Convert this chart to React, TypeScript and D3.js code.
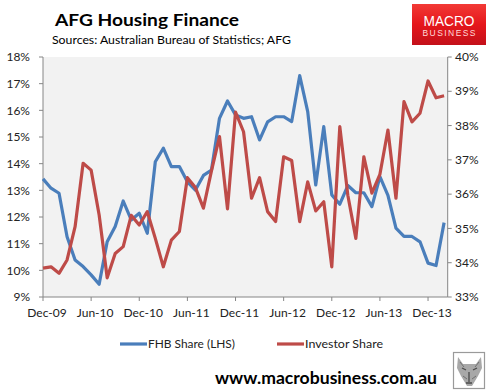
import React, { useEffect, useRef } from "react";
import * as d3 from "d3";

// monthly observations, Dec-09 .. Feb-14
const months = [
  "Dec-09", "Jan-10", "Feb-10", "Mar-10", "Apr-10", "May-10", "Jun-10", "Jul-10", "Aug-10", "Sep-10", "Oct-10", "Nov-10",
  "Dec-10", "Jan-11", "Feb-11", "Mar-11", "Apr-11", "May-11", "Jun-11", "Jul-11", "Aug-11", "Sep-11", "Oct-11", "Nov-11",
  "Dec-11", "Jan-12", "Feb-12", "Mar-12", "Apr-12", "May-12", "Jun-12", "Jul-12", "Aug-12", "Sep-12", "Oct-12", "Nov-12",
  "Dec-12", "Jan-13", "Feb-13", "Mar-13", "Apr-13", "May-13", "Jun-13", "Jul-13", "Aug-13", "Sep-13", "Oct-13", "Nov-13",
  "Dec-13", "Jan-14", "Feb-14"
];

// FHB share, % (left axis)
const fhbShare = [
  13.43, 13.08, 12.89, 11.26, 10.39, 10.14, 9.83, 9.48, 11.07, 11.64, 12.6, 11.89,
  12.14, 11.39, 14.07, 14.58, 13.89, 13.89, 13.32, 13.01, 13.56, 13.76, 15.7, 16.35,
  15.83, 15.7, 15.76, 14.89, 15.57, 15.76, 15.76, 15.58, 17.3, 15.95, 13.2, 15.39,
  12.83, 12.48, 13.18, 12.91, 12.91, 12.39, 13.51, 12.81, 11.58, 11.27, 11.27, 11.07,
  10.27, 10.18, 11.79
];

// Investor share, % (right axis)
const investorShare = [
  33.84, 33.88, 33.69, 34.08, 35.05, 36.9, 36.7, 35.39, 33.56, 34.27, 34.47, 35.38,
  35.1, 35.49, 34.71, 33.88, 34.66, 34.91, 36.48, 36.19, 35.59, 36.68, 37.68, 35.57,
  38.39, 37.82, 35.88, 36.48, 35.49, 35.2, 37.09, 36.98, 35.2, 36.36, 35.51, 35.78,
  33.88, 37.97, 35.97, 34.71, 37.09, 36.03, 36.58, 37.87, 35.88, 38.7, 38.11, 38.36,
  39.3, 38.81, 38.87
];

const xTickLabels = ["Dec-09", "Jun-10", "Dec-10", "Jun-11", "Dec-11", "Jun-12", "Dec-12", "Jun-13", "Dec-13"];
const leftTicks = [9, 10, 11, 12, 13, 14, 15, 16, 17, 18];
const rightTicks = [33, 34, 35, 36, 37, 38, 39, 40];

const size = {
  width: 490,
  height: 391,
  left: 43,
  right: 447.7,
  top: 57,
  bottom: 297
};
const font = "Lato, 'Open Sans', sans-serif";
const axisColor = "#868686";
const blue = "#4a7ebb";
const red = "#be4b48";

const App = () => {
  const ref = useRef(null);

  useEffect(() => {
    const svg = d3.select(ref.current);
    svg.selectAll("*").remove();

    const x = d3.scaleLinear().domain([0, 50.45]).range([size.left, size.right]);
    const yL = d3.scaleLinear().domain([9, 18]).range([size.bottom, size.top]);
    const yR = d3.scaleLinear().domain([33, 40]).range([size.bottom, size.top]);
    const step = x(1) - x(0);

    // header
    svg.append("text")
      .attr("x", 55).attr("y", 26)
      .attr("font-family", font).attr("font-weight", "bold").attr("font-size", 17.5)
      .attr("textLength", 184).attr("lengthAdjust", "spacingAndGlyphs")
      .text("AFG Housing Finance");
    svg.append("text")
      .attr("x", 52).attr("y", 43.5)
      .attr("font-family", font).attr("font-size", 12)
      .attr("textLength", 239).attr("lengthAdjust", "spacingAndGlyphs")
      .text("Sources: Australian Bureau of Statistics; AFG");

    // logo
    const defs = svg.append("defs");
    const grad = defs.append("linearGradient").attr("id", "logoGrad")
      .attr("x1", 0).attr("y1", 0).attr("x2", 0).attr("y2", 1);
    grad.append("stop").attr("offset", "0%").attr("stop-color", "#f23a36");
    grad.append("stop").attr("offset", "50%").attr("stop-color", "#e5161b");
    grad.append("stop").attr("offset", "100%").attr("stop-color", "#c3101a");
    svg.append("rect")
      .attr("x", 412).attr("y", 4).attr("width", 74).attr("height", 41)
      .attr("fill", "url(#logoGrad)");
    svg.append("text")
      .attr("x", 449).attr("y", 25.5).attr("text-anchor", "middle")
      .attr("font-family", "'Liberation Sans', Arial, sans-serif").attr("font-size", 15)
      .attr("fill", "#fff").attr("textLength", 51).attr("lengthAdjust", "spacingAndGlyphs")
      .text("MACRO");
    svg.append("text")
      .attr("x", 449).attr("y", 35.5).attr("text-anchor", "middle")
      .attr("font-family", "'Liberation Sans', Arial, sans-serif").attr("font-size", 8.5)
      .attr("fill", "#ffd9d9").attr("textLength", 53).attr("lengthAdjust", "spacing")
      .text("BUSINESS");

    // plot area
    svg.append("rect")
      .attr("x", size.left).attr("y", size.top)
      .attr("width", size.right - size.left).attr("height", size.bottom - size.top)
      .attr("fill", "#f2f2f2");

    // axes lines
    const axes = svg.append("g").attr("stroke", axisColor).attr("stroke-width", 1).attr("fill", "none");
    axes.append("line").attr("x1", size.left).attr("x2", size.left).attr("y1", size.top).attr("y2", size.bottom);
    axes.append("line").attr("x1", size.right).attr("x2", size.right).attr("y1", size.top).attr("y2", size.bottom);
    axes.append("line").attr("x1", size.left).attr("x2", size.right).attr("y1", size.bottom).attr("y2", size.bottom);

    axes.selectAll("line.lt").data(leftTicks).enter().append("line")
      .attr("class", "lt")
      .attr("x1", size.left - 4).attr("x2", size.left)
      .attr("y1", d => yL(d)).attr("y2", d => yL(d));
    axes.selectAll("line.rt").data(rightTicks).enter().append("line")
      .attr("class", "rt")
      .attr("x1", size.right).attr("x2", size.right + 4)
      .attr("y1", d => yR(d)).attr("y2", d => yR(d));
    axes.selectAll("line.xt").data(xTickLabels).enter().append("line")
      .attr("class", "xt")
      .attr("x1", d => x(months.indexOf(d))).attr("x2", d => x(months.indexOf(d)))
      .attr("y1", size.bottom).attr("y2", size.bottom + 4);

    const labels = svg.append("g").attr("font-family", font).attr("font-size", 12).attr("fill", "#222");
    labels.selectAll("text.l").data(leftTicks).enter().append("text")
      .attr("class", "l")
      .attr("x", 30).attr("y", d => yL(d) + 4.2).attr("text-anchor", "end")
      .text(d => `${d}%`);
    labels.selectAll("text.r").data(rightTicks).enter().append("text")
      .attr("class", "r")
      .attr("x", 455).attr("y", d => yR(d) + 4.2)
      .text(d => `${d}%`);
    labels.selectAll("text.x").data(xTickLabels).enter().append("text")
      .attr("class", "x")
      .attr("x", d => x(months.indexOf(d)) + step / 2).attr("y", 317).attr("text-anchor", "middle")
      .text(d => d);

    // series
    const lineL = d3.line().x((d, i) => x(i)).y(d => yL(d));
    const lineR = d3.line().x((d, i) => x(i)).y(d => yR(d));
    svg.append("path").datum(fhbShare)
      .attr("d", lineL).attr("fill", "none").attr("stroke", blue)
      .attr("stroke-width", 3.2).attr("stroke-linejoin", "round");
    svg.append("path").datum(investorShare)
      .attr("d", lineR).attr("fill", "none").attr("stroke", red)
      .attr("stroke-width", 3.2).attr("stroke-linejoin", "round");

    // legend
    const legend = svg.append("g").attr("font-family", font).attr("font-size", 12).attr("fill", "#222");
    const items = [
      { label: "FHB Share (LHS)", color: blue, x: 120, len: 87 },
      { label: "Investor Share", color: red, x: 277, len: 78 }
    ];
    items.forEach(it => {
      legend.append("line")
        .attr("x1", it.x).attr("x2", it.x + 27).attr("y1", 344).attr("y2", 344)
        .attr("stroke", it.color).attr("stroke-width", 3.2);
      legend.append("text")
        .attr("x", it.x + 28).attr("y", 348)
        .attr("textLength", it.len).attr("lengthAdjust", "spacingAndGlyphs")
        .text(it.label);
    });

    // footer
    svg.append("text")
      .attr("x", 215).attr("y", 384)
      .attr("font-family", font).attr("font-weight", "bold").attr("font-size", 17)
      .attr("textLength", 222).attr("lengthAdjust", "spacingAndGlyphs")
      .text("www.macrobusiness.com.au");

    // wolf badge
    const wolf = svg.append("g");
    wolf.append("rect")
      .attr("x", 453.5).attr("y", 352.5).attr("width", 31).attr("height", 36)
      .attr("fill", "#fff").attr("stroke", "#9a9a9a").attr("stroke-width", 1.2);
    wolf.append("path")
      .attr("d", "M458,357 L463,364 L476,364 L481,357 L482,368 L478,376 L472,386 L467,386 L461,376 L457,368 Z")
      .attr("fill", "#a8a8a8");
    wolf.append("path")
      .attr("d", "M462,368 L466,370 M473,370 L477,368 M469,372 L469,382 M466,383 L472,383")
      .attr("stroke", "#4a4a4a").attr("stroke-width", 1.3).attr("fill", "none");
    wolf.append("path")
      .attr("d", "M460,362 L464,367 M479,362 L475,367 M463,376 L467,379 M476,376 L472,379")
      .attr("stroke", "#707070").attr("stroke-width", 1).attr("fill", "none");
  }, []);

  return (
    <svg
      ref={ref}
      width={size.width}
      height={size.height}
      style={{ position: "absolute", left: 0, top: 0, background: "#fff" }}
    />
  );
};

export default App;
